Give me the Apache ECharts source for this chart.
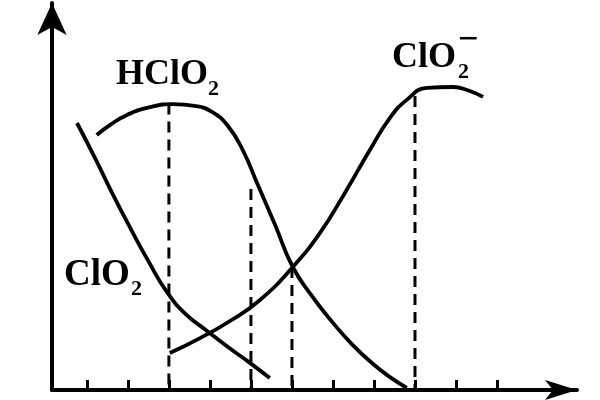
<!DOCTYPE html>
<html>
<head>
<meta charset="utf-8">
<script src="https://cdn.jsdelivr.net/npm/echarts@6.0.0/dist/echarts.min.js"></script>
<style>
    html, body { margin: 0; padding: 0; background: #fff; }
    #main { width: 600px; height: 400px; }
</style>
</head>
<body>
<div id="main"></div>
<script>
// HClO2
var hclo2X = [1.24, 1.56, 1.98, 2.54, 3.10, 3.63, 4.05, 4.44, 4.80, 5.17, 5.59, 6.02, 6.49, 6.98, 7.46, 7.95, 8.39, 8.80];
var hclo2Y = [0.85, 0.883, 0.917, 0.943, 0.953, 0.947, 0.927, 0.88, 0.80, 0.683, 0.55, 0.41, 0.313, 0.227, 0.153, 0.09, 0.043, 0.007];
// ClO2
var clo2X = [0.76, 1.20, 1.63, 2.07, 2.51, 2.95, 3.41, 3.93, 4.44, 4.95, 5.46];
var clo2Y = [0.89, 0.773, 0.653, 0.537, 0.427, 0.327, 0.253, 0.197, 0.143, 0.093, 0.04];
// ClO2-
var clo2mX = [3.02, 3.76, 4.49, 5.22, 6.02, 6.68, 7.29, 7.90, 8.39, 8.80, 9.29, 9.93, 10.27, 10.66];
var clo2mY = [0.123, 0.173, 0.23, 0.30, 0.41, 0.523, 0.657, 0.80, 0.907, 0.967, 1.007, 1.01, 1.0, 0.977];
// dashed drop lines
var dropX = [3, 5, 6, 9];
var dropTop = [0.955, 0.67, 0.41, 0.98];
// x tick marks
var tickX = [1, 2, 3, 4, 5, 6, 7, 8, 9, 10, 11];

var serif = '"Liberation Serif", "DejaVu Serif", serif';

function pairs(xs, ys) {
    return xs.map(function (x, i) {
        return [x, ys[i]];
    });
}

var chart = echarts.init(document.getElementById('main'));

var series = [
    { name: 'HClO2', data: pairs(hclo2X, hclo2Y) },
    { name: 'ClO2', data: pairs(clo2X, clo2Y) },
    { name: 'ClO2-', data: pairs(clo2mX, clo2mY) }
].map(function (s) {
    return {
        name: s.name,
        type: 'line',
        smooth: 0.5,
        symbol: 'none',
        silent: true,
        lineStyle: { color: '#000', width: 3.8 },
        data: s.data
    };
});

dropX.forEach(function (x, i) {
    series.push({
        type: 'line',
        symbol: 'none',
        silent: true,
        lineStyle: {
            color: '#000',
            width: 3,
            type: [11, 7]
        },
        data: [[x, dropTop[i]], [x, 0]]
    });
});

var option = {
    animation: false,
    backgroundColor: '#fff',
    grid: {
        left: 52,
        right: 23,
        top: 3,
        bottom: 10
    },
    xAxis: {
        type: 'value',
        min: 0.15,
        max: 12.95,
        axisLine: {
            show: true,
            symbol: ['none', 'arrow'],
            symbolSize: [15, 32],
            lineStyle: { color: '#000', width: 4 }
        },
        axisTick: {
            show: true,
            inside: true,
            length: 10,
            customValues: tickX,
            lineStyle: { color: '#000', width: 3 }
        },
        axisLabel: { show: false },
        splitLine: { show: false }
    },
    yAxis: {
        type: 'value',
        min: 0,
        max: 1.29,
        axisLine: {
            show: true,
            symbol: ['none', 'arrow'],
            symbolSize: [22, 32],
            lineStyle: { color: '#000', width: 4 }
        },
        axisTick: { show: false },
        axisLabel: { show: false },
        splitLine: { show: false }
    },
    graphic: [
        { type: 'text', style: { text: 'HClO', x: 116, y: 75, font: 'bold 36px ' + serif, fill: '#000', textVerticalAlign: 'middle' } },
        { type: 'text', style: { text: '2', x: 208, y: 89, font: 'bold 22px ' + serif, fill: '#000', textVerticalAlign: 'middle' } },
        { type: 'text', style: { text: 'ClO', x: 64, y: 275, font: 'bold 37px ' + serif, fill: '#000', textVerticalAlign: 'middle' } },
        { type: 'text', style: { text: '2', x: 131, y: 289, font: 'bold 22px ' + serif, fill: '#000', textVerticalAlign: 'middle' } },
        { type: 'text', style: { text: 'ClO', x: 392, y: 58, font: 'bold 36px ' + serif, fill: '#000', textVerticalAlign: 'middle' } },
        { type: 'text', style: { text: '2', x: 458, y: 72, font: 'bold 22px ' + serif, fill: '#000', textVerticalAlign: 'middle' } },
        { type: 'text', style: { text: '\u2212', x: 458, y: 41, font: 'bold 36px ' + serif, fill: '#000', textVerticalAlign: 'middle' } }
    ],
    series: series
};
chart.setOption(option);
</script>
</body>
</html>
